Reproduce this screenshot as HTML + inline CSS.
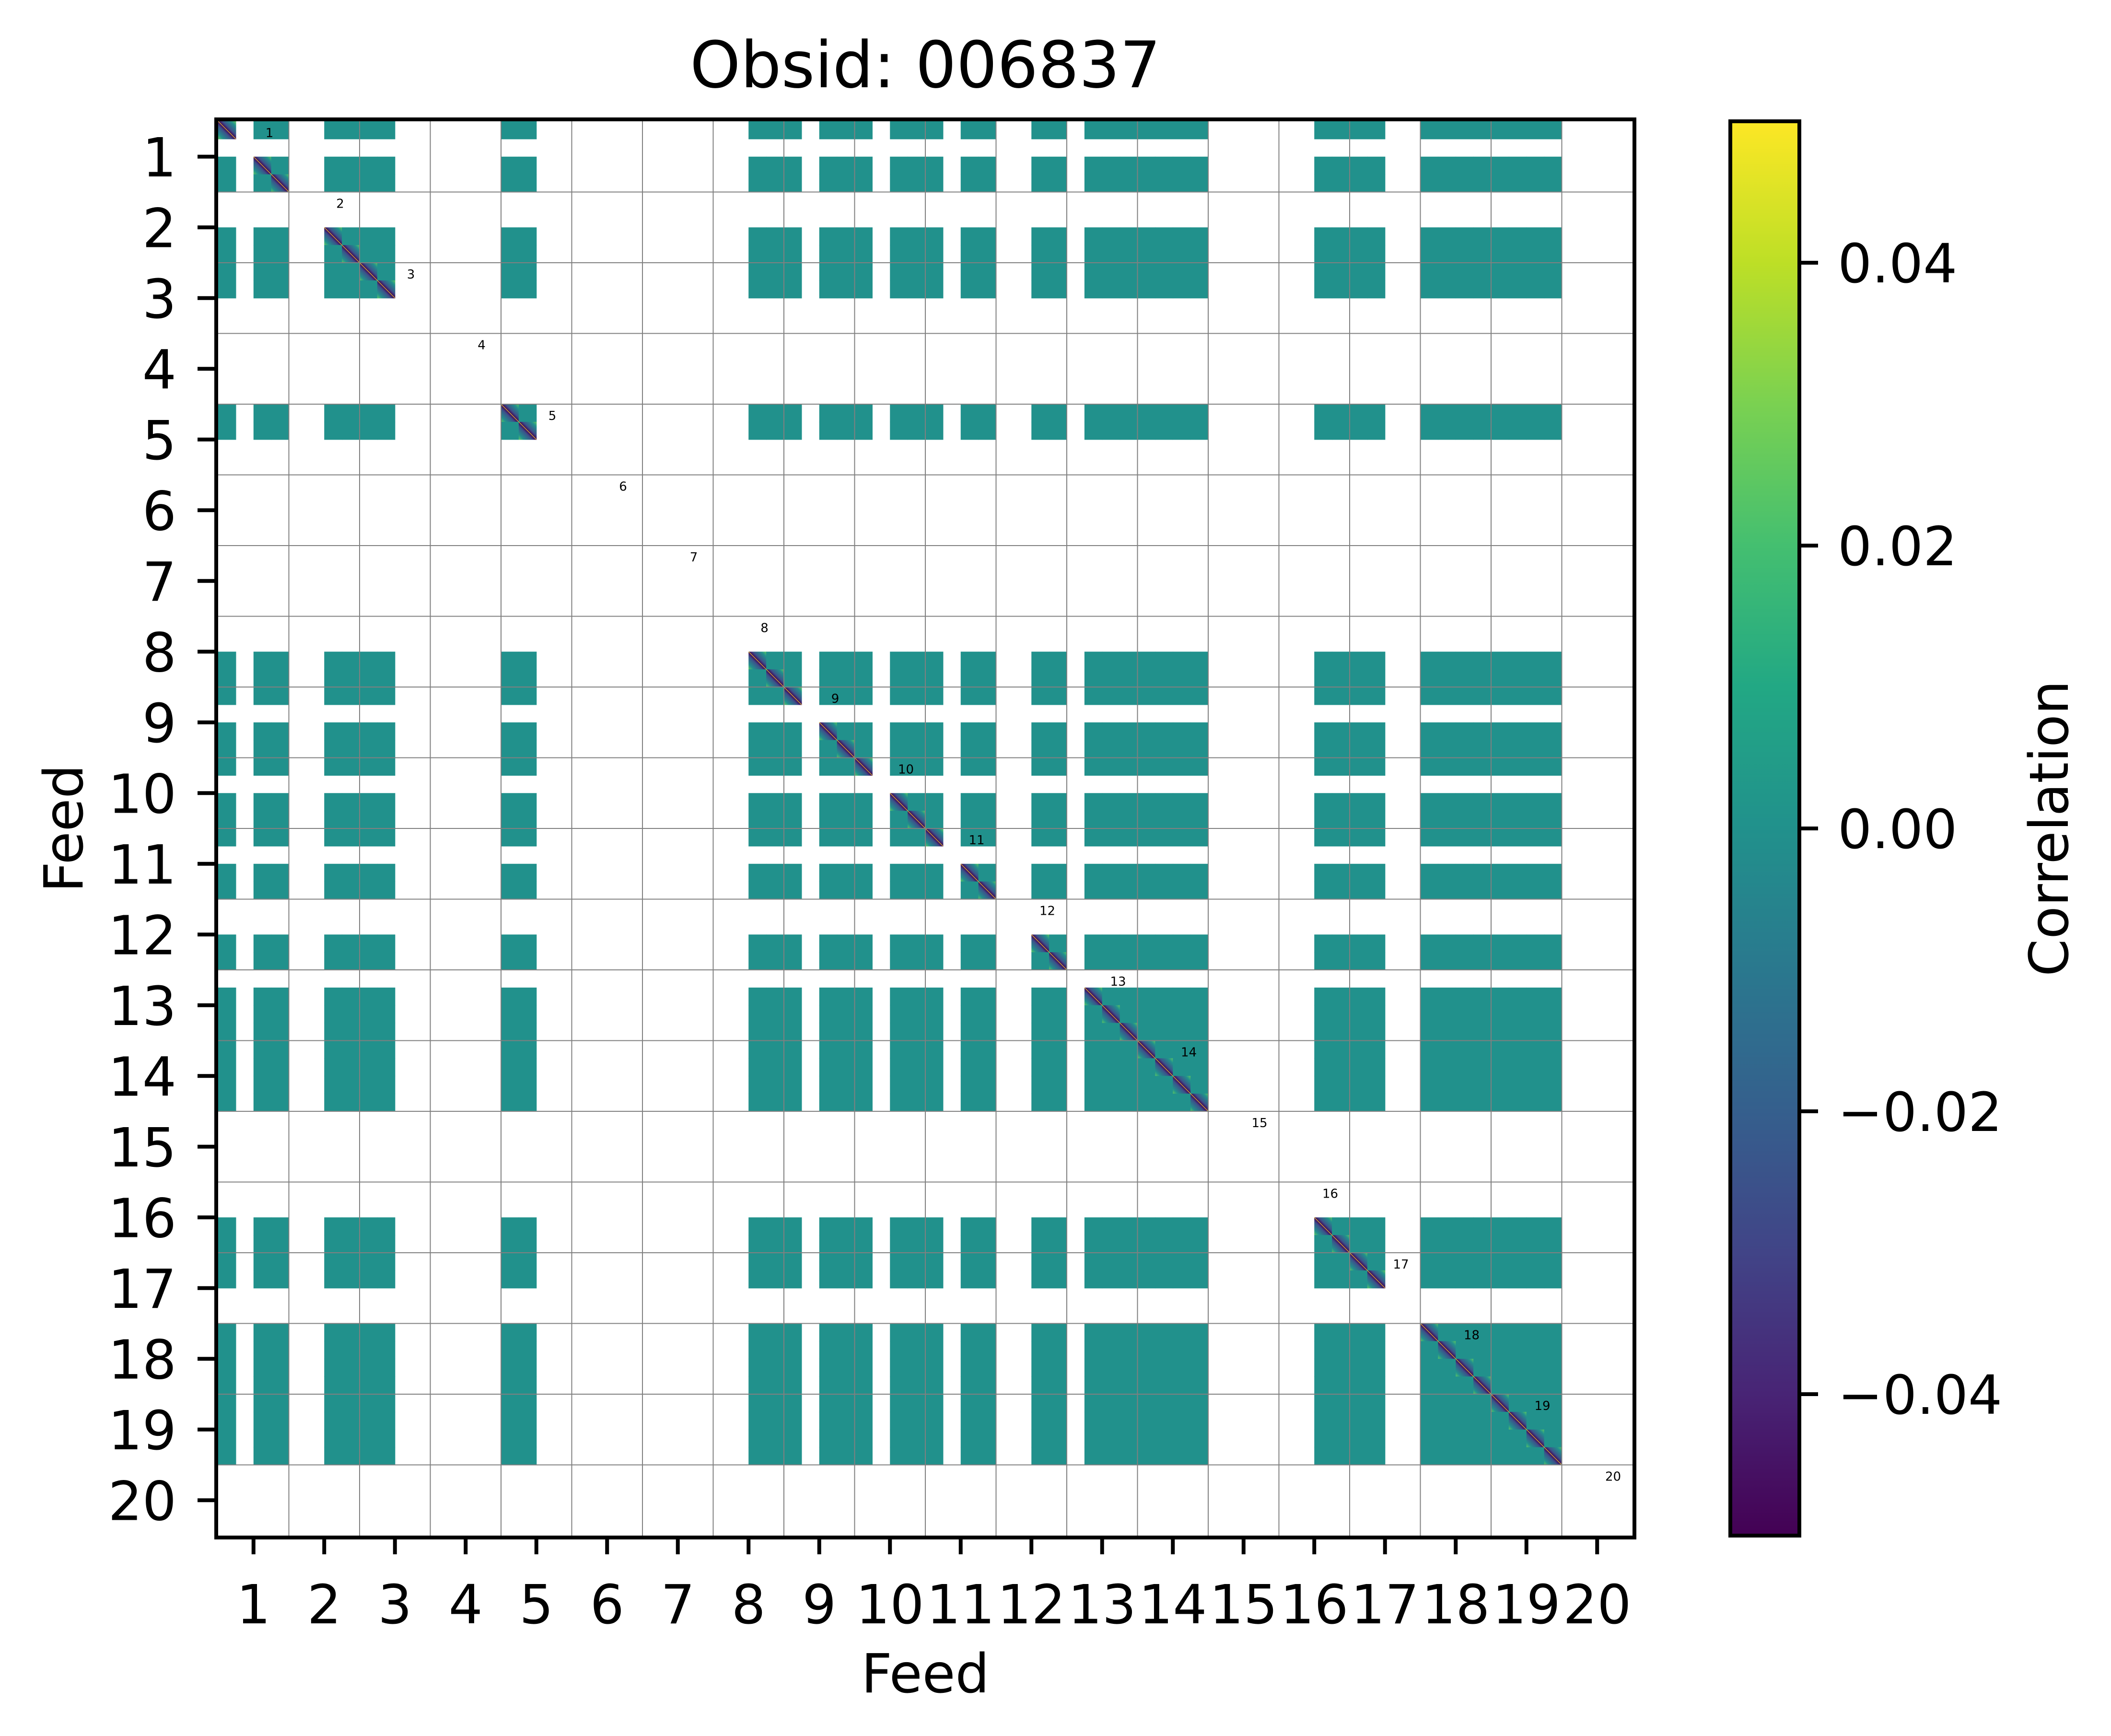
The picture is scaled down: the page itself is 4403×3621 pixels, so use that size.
<!DOCTYPE html>
<html><head><meta charset="utf-8">
<style>html,body{margin:0;padding:0;background:#fff}svg{display:block}text{font-family:"DejaVu Sans","Liberation Sans",sans-serif;fill:#000}</style>
</head><body>
<svg id="chart" width="4403" height="3621" viewBox="0 0 4403 3621" xmlns="http://www.w3.org/2000/svg">
<defs>
<linearGradient id="diagGrad" x1="1" y1="0" x2="0" y2="1">
<stop offset="0" stop-color="#5ec962"/><stop offset="0.15" stop-color="#21918c"/><stop offset="0.38" stop-color="#3b528b"/><stop offset="0.5" stop-color="#440154"/><stop offset="0.62" stop-color="#3b528b"/><stop offset="0.85" stop-color="#21918c"/><stop offset="1" stop-color="#5ec962"/>
</linearGradient>
<linearGradient id="viridis" x1="0" y1="1" x2="0" y2="0">
<stop offset="0" stop-color="#440154"/><stop offset="0.1" stop-color="#482475"/><stop offset="0.2" stop-color="#414487"/><stop offset="0.3" stop-color="#355f8d"/><stop offset="0.4" stop-color="#2a788e"/><stop offset="0.5" stop-color="#21918c"/><stop offset="0.6" stop-color="#22a884"/><stop offset="0.7" stop-color="#44bf70"/><stop offset="0.8" stop-color="#7ad151"/><stop offset="0.9" stop-color="#bddf26"/><stop offset="1" stop-color="#fde725"/>
</linearGradient>
</defs>
<g id="cells"></g>
<g id="grid"></g>
<g id="feedlabels"></g>
<rect x="451" y="249" width="2958" height="2958" fill="none" stroke="#000" stroke-width="8"/>
<g id="ticks"></g>
<text x="1930" y="182" font-size="134" text-anchor="middle">Obsid: 006837</text>
<text x="1930" y="3530" font-size="112" text-anchor="middle">Feed</text>
<text x="0" y="0" font-size="112" text-anchor="middle" transform="translate(172,1728) rotate(-90)">Feed</text>
<rect x="3609" y="253" width="144" height="2950" fill="url(#viridis)" stroke="#000" stroke-width="8"/>
<g id="cbticks"></g>
<text x="0" y="0" font-size="112" text-anchor="middle" transform="translate(4313,1728) rotate(-90)">Correlation</text>
</svg>
<script>
// good (unflagged) sidebands per feed
const feeds = [1,2,3,4,5,6,7,8,9,10,11,12,13,14,15,16,17,18,19,20];
const goodSidebands = [[0,2,3],[2,3],[0,1],[],[0,1],[],[],[2,3],[0,2,3],[0,2,3],[0,2,3],[2,3],[1,2,3],[0,1,2,3],[],[2,3],[0,1],[0,1,2,3],[0,1,2,3],[]];
const cbTicks = [-0.04,-0.02,0.00,0.02,0.04];
const cbLabels = ["\u22120.04","\u22120.02","0.00","0.02","0.04"];
const cbMin = -0.05, cbMax = 0.05;

const NS="http://www.w3.org/2000/svg";
const X0=455, Y0=253, SIZE=2950, NF=feeds.length, NSB=4;
const feedSize=SIZE/NF, sbSize=feedSize/NSB;
function xPos(idx){return X0+idx*sbSize;}
function yPos(idx){return Y0+idx*sbSize;}
function feedCenter(f){return X0+(f-0.5)*feedSize;}
function cbY(v){return Y0+(cbMax-v)/(cbMax-cbMin)*SIZE;}
function mk(tag,attrs,parent){const e=document.createElementNS(NS,tag);for(const k in attrs)e.setAttribute(k,attrs[k]);parent.appendChild(e);return e;}

const good=[];
goodSidebands.forEach((sbs,fi)=>sbs.forEach(s=>good.push(fi*NSB+s)));
const cells=document.getElementById('cells');
good.forEach(r=>{good.forEach(c=>{
  const diag=r===c;
  const el=mk('rect',{x:xPos(c),y:yPos(r),width:sbSize+0.6,height:sbSize+0.6,fill:diag?'url(#diagGrad)':'#21918c'},cells);
  
  
  if(diag){
    const ln=mk('line',{x1:xPos(c),y1:yPos(r),x2:xPos(c)+sbSize,y2:yPos(r)+sbSize,stroke:'#fde725','stroke-width':1},cells);
    
    
  }
});});

const grid=document.getElementById('grid');
for(let i=1;i<NF;i++){
  const p=X0+i*feedSize, q=Y0+i*feedSize;
  const v=mk('line',{x1:p,y1:Y0,x2:p,y2:Y0+SIZE,stroke:'#808080','stroke-width':2},grid);
  
  
  const h=mk('line',{x1:X0,y1:q,x2:X0+SIZE,y2:q,stroke:'#808080','stroke-width':2},grid);
  
  
}

const fl=document.getElementById('feedlabels');
feeds.forEach((f,i)=>{
  const t=mk('text',{x:X0+i*feedSize+107,y:Y0+i*feedSize+33,'font-size':26,'text-anchor':'middle'},fl);
  t.textContent=String(f);
  
  
});

const ticks=document.getElementById('ticks');
feeds.forEach(f=>{
  const c=feedCenter(f);
  const yc=Y0+(f-0.5)*feedSize;
  const tx=mk('line',{x1:c,y1:3207,x2:c,y2:3242,stroke:'#000','stroke-width':8},ticks);
  
  
  const lx=mk('text',{x:c,y:3386,'font-size':112,'text-anchor':'middle'},ticks);
  lx.textContent=String(f);
  
  
  const ty=mk('line',{x1:412,y1:yc,x2:447,y2:yc,stroke:'#000','stroke-width':8},ticks);
  
  
  const ly=mk('text',{x:368,y:yc+41,'font-size':112,'text-anchor':'end'},ticks);
  ly.textContent=String(f);
  
  
});

const cbt=document.getElementById('cbticks');
cbTicks.forEach((v,i)=>{
  const y=cbY(v);
  const t=mk('line',{x1:3757,y1:y,x2:3792,y2:y,stroke:'#000','stroke-width':8},cbt);
  
  
  const l=mk('text',{x:3833,y:y+41,'font-size':112},cbt);
  l.textContent=cbLabels[i];
  
  
});
</script>
</body></html>
